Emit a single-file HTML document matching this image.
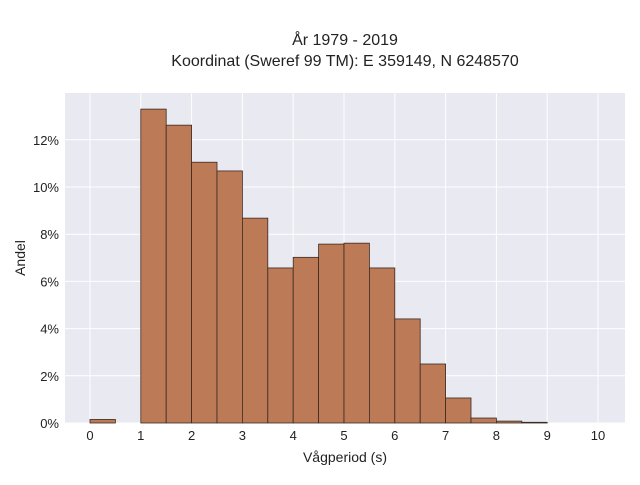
<!DOCTYPE html>
<html><head><meta charset="utf-8"><style>
body{margin:0;background:#fff;font-family:"Liberation Sans",sans-serif}
</style></head><body>
<svg width="640" height="480" xmlns="http://www.w3.org/2000/svg">
<rect x="0" y="0" width="640" height="480" fill="#fff"/>
<text x="345" y="45" text-anchor="middle" font-size="16" fill="#222">År 1979 - 2019</text>
<text x="345" y="66" text-anchor="middle" font-size="16" fill="#222">Koordinat (Sweref 99 TM): E 359149, N 6248570</text>
<rect x="65" y="93" width="560" height="330" fill="#e9e9f1"/>
<g id="grid"></g>
<g id="bars"></g>
<g id="ticks"></g>
<text x="345" y="462" text-anchor="middle" font-size="14" fill="#222">Vågperiod (s)</text>
<text x="25" y="258" text-anchor="middle" font-size="14" fill="#222" transform="rotate(-90 25 258)">Andel</text>
</svg>
<script>
const binStarts=[0,1,1.5,2,2.5,3,3.5,4,4.5,5,5.5,6,6.5,7,7.5,8,8.5];
const shares=[0.15,13.3,12.62,11.05,10.68,8.68,6.57,7.02,7.58,7.62,6.57,4.41,2.5,1.06,0.21,0.08,0.03];
const xTicks=[0,1,2,3,4,5,6,7,8,9,10];
const yTicks=[0,2,4,6,8,10,12];
const binWidth=0.5;
const X=v=>90+v*50.8;
const Y=v=>423-v*23.6;
const NS="http://www.w3.org/2000/svg";
const grid=document.getElementById('grid'),bars=document.getElementById('bars'),ticks=document.getElementById('ticks');
function mk(tag,attrs,parent){const e=document.createElementNS(NS,tag);for(const k in attrs)e.setAttribute(k,attrs[k]);parent.appendChild(e);return e;}
xTicks.forEach(t=>{
 const l=mk('line',{x1:X(t),x2:X(t),y1:93,y2:423,stroke:'#fff','stroke-width':1},grid);
 
 
 const tx=mk('text',{x:X(t),y:440,'text-anchor':'middle','font-size':13,fill:'#222'},ticks);
 tx.textContent=t;
 
 
});
yTicks.forEach(t=>{
 const l=mk('line',{x1:65,x2:625,y1:Y(t),y2:Y(t),stroke:'#fff','stroke-width':1},grid);
 
 
 const tx=mk('text',{x:59,y:Y(t)+5,'text-anchor':'end','font-size':13,fill:'#222'},ticks);
 tx.textContent=t+'%';
 
 
});
binStarts.forEach((b,i)=>{
 const r=mk('rect',{x:X(b),y:Y(shares[i]),width:X(b+binWidth)-X(b),height:Y(0)-Y(shares[i]),fill:'#bd7a56',stroke:'#3a2a22','stroke-width':0.8},bars);
 
 
});
</script>
</body></html>
